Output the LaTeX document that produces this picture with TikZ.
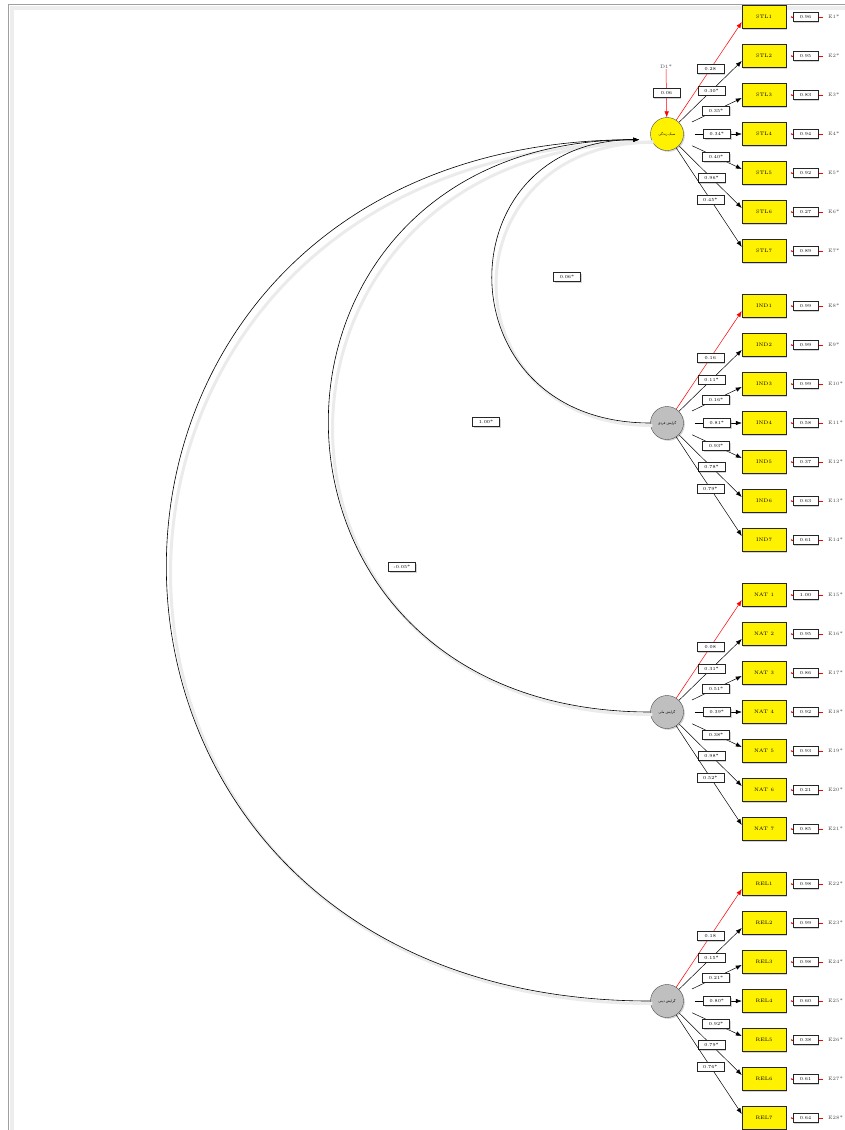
\documentclass[tikz,border=0pt]{standalone}
\usepackage{fontspec}
\newfontfamily\farsifont[Script=Arabic]{DejaVu Sans}
\TeXXeTstate=1
\usetikzlibrary{arrows.meta,calc,shadows}

\tikzset{
  boxshadow/.style={drop shadow={shadow xshift=1.3pt, shadow yshift=-1.3pt, opacity=.35}},
  manifest/.style={draw=black!85, fill=yellow, minimum width=44pt, minimum height=23pt, inner sep=0pt, font=\fontsize{5}{6}\selectfont, boxshadow},
  latent/.style={circle, draw=black!70, minimum size=33pt, inner sep=0pt, font=\fontsize{3.4}{4}\farsifont, boxshadow},
  load/.style={draw=black!85, fill=white, text=black, minimum width=27pt, minimum height=9pt, inner sep=0pt, font=\fontsize{4.6}{5}\selectfont, boxshadow},
  errval/.style={draw=black!85, fill=white, text=black, minimum width=25pt, minimum height=9pt, inner sep=0pt, font=\fontsize{4.6}{5}\selectfont, boxshadow},
  elabel/.style={anchor=west, inner sep=0pt, font=\fontsize{5}{6}\selectfont, text=black!70},
  loadarrow/.style={line width=.5pt, -{Latex[length=6pt,width=4.5pt]}},
  errarrow/.style={red, line width=.4pt, -{Latex[length=1.5pt,width=2pt]}, shorten <=5pt, shorten >=4.5pt},
  regarrow/.style={line width=.6pt, -{Latex[length=6pt,width=4.5pt]}, shorten >=12pt},
  arcshadow/.style={black!8, line width=3pt, transform canvas={shift={(2pt,-2.5pt)}}}
}

\begin{document}
\begin{tikzpicture}[x=1pt, y=-1pt]
  \useasboundingbox (0,0) rectangle (845,1130);
  % page frame
  \draw[black!7, line width=4pt] (845,8) -- (12,8) -- (12,1130);
  \draw[gray!75, line width=1pt] (845,4) -- (8,4) -- (8,1130);

  % latent factors
  \node[latent, fill=yellow] (stl) at (667,134) {\beginR سبک زندگی\endR};
  \node[latent, fill=gray!50] (ind) at (667,423) {\beginR گرایش فردی\endR};
  \node[latent, fill=gray!50] (nat) at (667,712) {\beginR گرایش ملی\endR};
  \node[latent, fill=gray!50] (rel) at (667,1001) {\beginR گرایش دینی\endR};

  % structural paths
  \draw[arcshadow] (rel.west) .. controls +(-643,0) and +(-643,0) .. (stl.200);
  \draw[arcshadow] (nat.west) .. controls +(-427,0) and +(-427,0) .. (stl.200);
  \draw[arcshadow] (ind.west) .. controls +(-209,0) and +(-209,0) .. (stl.200);
  \draw[regarrow] (rel.west) .. controls +(-643,0) and +(-643,0) .. (stl.200);
  \draw[regarrow] (nat.west) .. controls +(-427,0) and +(-427,0) .. (stl.200);
  \draw[regarrow] (ind.west) .. controls +(-209,0) and +(-209,0) .. (stl.200);
  \node[load] (ra) at (567,277) {0.06*};
  \node[load] (rb) at (486,422) {1.00*};
  \node[load] (rc) at (402,567) {-0.05*};

  % disturbance
  \node[elabel, anchor=center] (d1) at (666,67) {D1*};
  \draw[red, line width=.5pt, -{Latex[length=6pt,width=4.5pt]}] (d1) -- node[load]{0.06} (stl);

  % STL indicators
  \node[manifest] (stl1) at (764,17) {STL1};  \node[elabel] (e1) at (828,17) {E1*};
  \node[manifest] (stl2) at (764,56) {STL2};  \node[elabel] (e2) at (828,56) {E2*};
  \node[manifest] (stl3) at (764,95) {STL3};  \node[elabel] (e3) at (828,95) {E3*};
  \node[manifest] (stl4) at (764,134) {STL4}; \node[elabel] (e4) at (828,134) {E4*};
  \node[manifest] (stl5) at (764,173) {STL5}; \node[elabel] (e5) at (828,173) {E5*};
  \node[manifest] (stl6) at (764,212) {STL6}; \node[elabel] (e6) at (828,212) {E6*};
  \node[manifest] (stl7) at (764,251) {STL7}; \node[elabel] (e7) at (828,251) {E7*};
  \draw[errarrow] (e1) -- (stl1); \node[errval] (v1) at (805.5,17) {0.96};
  \draw[errarrow] (e2) -- (stl2); \node[errval] (v2) at (805.5,56) {0.95};
  \draw[errarrow] (e3) -- (stl3); \node[errval] (v3) at (805.5,95) {0.83};
  \draw[errarrow] (e4) -- (stl4); \node[errval] (v4) at (805.5,134) {0.94};
  \draw[errarrow] (e5) -- (stl5); \node[errval] (v5) at (805.5,173) {0.92};
  \draw[errarrow] (e6) -- (stl6); \node[errval] (v6) at (805.5,212) {0.27};
  \draw[errarrow] (e7) -- (stl7); \node[errval] (v7) at (805.5,251) {0.89};
  \draw[loadarrow, red] (stl) -- node[load, pos=.52]{0.28} ([yshift=-5pt]stl1.west);
  \draw[loadarrow] (stl) -- node[load, pos=.52]{0.30*} ([yshift=-5pt]stl2.west);
  \draw[loadarrow, shorten <=11pt] (stl) -- node[load, pos=.57]{0.35*} ([yshift=-3pt]stl3.west);
  \draw[loadarrow, shorten <=11pt] (stl) -- node[load, pos=.57]{0.34*} (stl4.west);
  \draw[loadarrow, shorten <=11pt] (stl) -- node[load, pos=.57]{0.40*} ([yshift=4pt]stl5.west);
  \draw[loadarrow] (stl) -- node[load, pos=.52]{0.96*} ([yshift=4pt]stl6.west);
  \draw[loadarrow] (stl) -- node[load, pos=.52]{0.45*} ([yshift=4pt]stl7.west);

  % IND indicators
  \node[manifest] (ind1) at (764,306) {IND1}; \node[elabel] (e8) at (828,306) {E8*};
  \node[manifest] (ind2) at (764,345) {IND2}; \node[elabel] (e9) at (828,345) {E9*};
  \node[manifest] (ind3) at (764,384) {IND3}; \node[elabel] (e10) at (828,384) {E10*};
  \node[manifest] (ind4) at (764,423) {IND4}; \node[elabel] (e11) at (828,423) {E11*};
  \node[manifest] (ind5) at (764,462) {IND5}; \node[elabel] (e12) at (828,462) {E12*};
  \node[manifest] (ind6) at (764,501) {IND6}; \node[elabel] (e13) at (828,501) {E13*};
  \node[manifest] (ind7) at (764,540) {IND7}; \node[elabel] (e14) at (828,540) {E14*};
  \draw[errarrow] (e8) -- (ind1);  \node[errval] (v8) at (805.5,306) {0.99};
  \draw[errarrow] (e9) -- (ind2);  \node[errval] (v9) at (805.5,345) {0.99};
  \draw[errarrow] (e10) -- (ind3); \node[errval] (v10) at (805.5,384) {0.99};
  \draw[errarrow] (e11) -- (ind4); \node[errval] (v11) at (805.5,423) {0.58};
  \draw[errarrow] (e12) -- (ind5); \node[errval] (v12) at (805.5,462) {0.37};
  \draw[errarrow] (e13) -- (ind6); \node[errval] (v13) at (805.5,501) {0.63};
  \draw[errarrow] (e14) -- (ind7); \node[errval] (v14) at (805.5,540) {0.61};
  \draw[loadarrow, red] (ind) -- node[load, pos=.52]{0.16} ([yshift=-5pt]ind1.west);
  \draw[loadarrow] (ind) -- node[load, pos=.52]{0.11*} ([yshift=-5pt]ind2.west);
  \draw[loadarrow, shorten <=11pt] (ind) -- node[load, pos=.57]{0.16*} ([yshift=-3pt]ind3.west);
  \draw[loadarrow, shorten <=11pt] (ind) -- node[load, pos=.57]{0.81*} (ind4.west);
  \draw[loadarrow, shorten <=11pt] (ind) -- node[load, pos=.57]{0.93*} ([yshift=4pt]ind5.west);
  \draw[loadarrow] (ind) -- node[load, pos=.52]{0.78*} ([yshift=4pt]ind6.west);
  \draw[loadarrow] (ind) -- node[load, pos=.52]{0.79*} ([yshift=4pt]ind7.west);

  % NAT indicators
  \node[manifest] (nat1) at (764,595) {NAT 1}; \node[elabel] (e15) at (828,595) {E15*};
  \node[manifest] (nat2) at (764,634) {NAT 2}; \node[elabel] (e16) at (828,634) {E16*};
  \node[manifest] (nat3) at (764,673) {NAT 3}; \node[elabel] (e17) at (828,673) {E17*};
  \node[manifest] (nat4) at (764,712) {NAT 4}; \node[elabel] (e18) at (828,712) {E18*};
  \node[manifest] (nat5) at (764,751) {NAT 5}; \node[elabel] (e19) at (828,751) {E19*};
  \node[manifest] (nat6) at (764,790) {NAT 6}; \node[elabel] (e20) at (828,790) {E20*};
  \node[manifest] (nat7) at (764,829) {NAT 7}; \node[elabel] (e21) at (828,829) {E21*};
  \draw[errarrow] (e15) -- (nat1); \node[errval] (v15) at (805.5,595) {1.00};
  \draw[errarrow] (e16) -- (nat2); \node[errval] (v16) at (805.5,634) {0.95};
  \draw[errarrow] (e17) -- (nat3); \node[errval] (v17) at (805.5,673) {0.86};
  \draw[errarrow] (e18) -- (nat4); \node[errval] (v18) at (805.5,712) {0.92};
  \draw[errarrow] (e19) -- (nat5); \node[errval] (v19) at (805.5,751) {0.93};
  \draw[errarrow] (e20) -- (nat6); \node[errval] (v20) at (805.5,790) {0.21};
  \draw[errarrow] (e21) -- (nat7); \node[errval] (v21) at (805.5,829) {0.85};
  \draw[loadarrow, red] (nat) -- node[load, pos=.52]{0.08} ([yshift=-5pt]nat1.west);
  \draw[loadarrow] (nat) -- node[load, pos=.52]{0.31*} ([yshift=-5pt]nat2.west);
  \draw[loadarrow, shorten <=11pt] (nat) -- node[load, pos=.57]{0.51*} ([yshift=-3pt]nat3.west);
  \draw[loadarrow, shorten <=11pt] (nat) -- node[load, pos=.57]{0.39*} (nat4.west);
  \draw[loadarrow, shorten <=11pt] (nat) -- node[load, pos=.57]{0.38*} ([yshift=4pt]nat5.west);
  \draw[loadarrow] (nat) -- node[load, pos=.52]{0.98*} ([yshift=4pt]nat6.west);
  \draw[loadarrow] (nat) -- node[load, pos=.52]{0.52*} ([yshift=4pt]nat7.west);

  % REL indicators
  \node[manifest] (rel1) at (764,884) {REL1};  \node[elabel] (e22) at (828,884) {E22*};
  \node[manifest] (rel2) at (764,923) {REL2};  \node[elabel] (e23) at (828,923) {E23*};
  \node[manifest] (rel3) at (764,962) {REL3};  \node[elabel] (e24) at (828,962) {E24*};
  \node[manifest] (rel4) at (764,1001) {REL4}; \node[elabel] (e25) at (828,1001) {E25*};
  \node[manifest] (rel5) at (764,1040) {REL5}; \node[elabel] (e26) at (828,1040) {E26*};
  \node[manifest] (rel6) at (764,1079) {REL6}; \node[elabel] (e27) at (828,1079) {E27*};
  \node[manifest] (rel7) at (764,1118) {REL7}; \node[elabel] (e28) at (828,1118) {E28*};
  \draw[errarrow] (e22) -- (rel1); \node[errval] (v22) at (805.5,884) {0.98};
  \draw[errarrow] (e23) -- (rel2); \node[errval] (v23) at (805.5,923) {0.99};
  \draw[errarrow] (e24) -- (rel3); \node[errval] (v24) at (805.5,962) {0.98};
  \draw[errarrow] (e25) -- (rel4); \node[errval] (v25) at (805.5,1001) {0.60};
  \draw[errarrow] (e26) -- (rel5); \node[errval] (v26) at (805.5,1040) {0.38};
  \draw[errarrow] (e27) -- (rel6); \node[errval] (v27) at (805.5,1079) {0.61};
  \draw[errarrow] (e28) -- (rel7); \node[errval] (v28) at (805.5,1118) {0.64};
  \draw[loadarrow, red] (rel) -- node[load, pos=.52]{0.18} ([yshift=-5pt]rel1.west);
  \draw[loadarrow] (rel) -- node[load, pos=.52]{0.15*} ([yshift=-5pt]rel2.west);
  \draw[loadarrow, shorten <=11pt] (rel) -- node[load, pos=.57]{0.21*} ([yshift=-3pt]rel3.west);
  \draw[loadarrow, shorten <=11pt] (rel) -- node[load, pos=.57]{0.80*} (rel4.west);
  \draw[loadarrow, shorten <=11pt] (rel) -- node[load, pos=.57]{0.92*} ([yshift=4pt]rel5.west);
  \draw[loadarrow] (rel) -- node[load, pos=.52]{0.79*} ([yshift=4pt]rel6.west);
  \draw[loadarrow] (rel) -- node[load, pos=.52]{0.76*} ([yshift=4pt]rel7.west);
\end{tikzpicture}
\end{document}
